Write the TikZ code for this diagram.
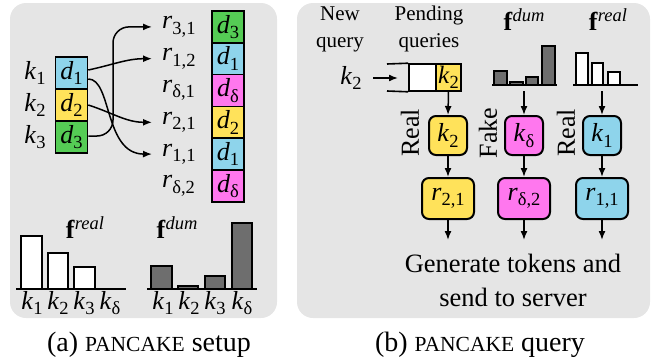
\documentclass[tikz,border=0pt]{standalone}
\usepackage{fontspec}
\setmainfont{Liberation Serif}
\usetikzlibrary{arrows.meta}
\definecolor{panelgray}{RGB}{229,229,229}
\definecolor{cblue}{RGB}{142,212,235}
\definecolor{cyellow}{RGB}{255,226,90}
\definecolor{cgreen}{RGB}{85,204,85}
\definecolor{cpink}{RGB}{255,119,238}
\definecolor{bargray}{RGB}{110,110,110}
\newcommand\sym[2]{\textit{#1}\raisebox{-5.5pt}{\fontsize{18.5}{18.5}\selectfont #2}}
\newcommand\fv[1]{\textbf{f}\raisebox{9pt}{\fontsize{18.5}{18.5}\selectfont\itshape #1}}
\newcommand\pc{{\fontsize{21.5}{21.5}\selectfont PANCAKE}}
\tikzset{
  txt/.style={font=\fontsize{26}{32}\selectfont, inner sep=0},
  small/.style={font=\fontsize{21}{27}\selectfont, inner sep=0, align=center},
  cell/.style={draw, line width=1.6, minimum width=32, minimum height=31.8, inner sep=0, font=\fontsize{26}{32}\selectfont},
  rcell/.style={draw, line width=2, rounded corners=7, minimum width=38, minimum height=39, inner sep=0, font=\fontsize{26}{32}\selectfont},
  wcell/.style={rcell, minimum width=52, minimum height=41},
  arr/.style={line width=1.5, -{Latex[length=9pt,width=7pt]}},
  barw/.style={draw, line width=2, fill=white},
  bard/.style={draw, line width=2, fill=bargray},
  barws/.style={draw, line width=1.5, fill=white},
  bards/.style={draw, line width=1.5, fill=bargray},
}
\begin{document}
\begin{tikzpicture}[x=1pt,y=1pt]
\useasboundingbox (0,0) rectangle (654,-364);
% panels
\fill[panelgray, rounded corners=16] (10,-3) rectangle (277,-318);
\fill[panelgray, rounded corners=16] (297,-3) rectangle (650,-318);

% ---------- (a) setup ----------
\node[cell, fill=cblue]   (d1) at (71.5,-73) {\sym{d}{1}};
\node[cell, fill=cyellow] (d2) at (71.5,-105) {\sym{d}{2}};
\node[cell, fill=cgreen]  (d3) at (71.5,-137) {\sym{d}{3}};
\node[txt] (k1) at (35,-73) {\sym{k}{1}};
\node[txt] (k2) at (35,-105) {\sym{k}{2}};
\node[txt] (k3) at (35,-137) {\sym{k}{3}};

\node[cell, fill=cgreen]  (e1) at (228,-26.9) {\sym{d}{3}};
\node[cell, fill=cblue]   (e2) at (228,-58.7) {\sym{d}{1}};
\node[cell, fill=cpink]   (e3) at (228,-90.5) {\sym{d}{δ}};
\node[cell, fill=cyellow] (e4) at (228,-122.3) {\sym{d}{2}};
\node[cell, fill=cblue]   (e5) at (228,-154.1) {\sym{d}{1}};
\node[cell, fill=cpink]   (e6) at (228,-185.9) {\sym{d}{δ}};

\node[txt, anchor=west, inner xsep=2] (r31) at (160,-26.9) {\sym{r}{3,1}};
\node[txt, anchor=west, inner xsep=2] (r12) at (160,-58.7) {\sym{r}{1,2}};
\node[txt, anchor=west, inner xsep=2] (rd1) at (160,-90.5) {\sym{r}{δ,1}};
\node[txt, anchor=west, inner xsep=2] (r21) at (160,-122.3) {\sym{r}{2,1}};
\node[txt, anchor=west, inner xsep=2] (r11) at (160,-154.1) {\sym{r}{1,1}};
\node[txt, anchor=west, inner xsep=2] (rd2) at (160,-185.9) {\sym{r}{δ,2}};

\draw[arr] ([yshift=3]d1.east) to[out=12,in=180] ([xshift=-8]r12.west);
\draw[arr] ([yshift=-6]d1.east) .. controls (112,-79) and (104,-154) .. ([xshift=-8]r11.west);
\draw[arr] (d2.east) to[out=-18,in=180] ([xshift=-8]r21.west);
\draw[arr, rounded corners=16] ([yshift=1]d3.east) -| ([xshift=-47]r31.west) -- ([xshift=-8]r31.west);

% histograms (a)
\node[txt] (fra) at (85,-228) {\fv{real}};
\draw[barw] (21,-289) rectangle (42,-236);
\draw[barw] (48,-289) rectangle (68,-253);
\draw[barw] (74,-289) rectangle (95,-267);
\draw[line width=2] (16,-289) -- (126,-289);
\node[txt] at (32,-303) {\sym{k}{1}};
\node[txt] at (58,-303) {\sym{k}{2}};
\node[txt] at (84,-303) {\sym{k}{3}};
\node[txt] at (110,-303) {\sym{k}{δ}};

\node[txt] (fda) at (177,-228) {\fv{dum}};
\draw[bard] (151,-289) rectangle (172,-266);
\draw[bard] (178,-289) rectangle (198,-286);
\draw[bard] (205,-289) rectangle (225,-276);
\draw[bard] (232,-289) rectangle (252,-223);
\draw[line width=2] (147,-289) -- (257,-289);
\node[txt] at (163,-303) {\sym{k}{1}};
\node[txt] at (189,-303) {\sym{k}{2}};
\node[txt] at (215,-303) {\sym{k}{3}};
\node[txt] at (242,-303) {\sym{k}{δ}};

\node[txt, font=\fontsize{28}{32}\selectfont] (capa) at (149,-345) {(a) \pc{} setup};

% ---------- (b) query ----------
\node[small] (nq) at (340,-29) {New\\query};
\node[small] (pq) at (429,-29) {Pending\\queries};
\node[txt] (fdb) at (524,-20) {\fv{dum}};
\node[txt] (frb) at (608,-20) {\fv{real}};

\node[txt] (knew) at (351,-78) {\sym{k}{2}};
\coordinate (qin) at (398,-78);
\draw[arr] (373,-78) -- (qin);

\node[draw, line width=1.6, fill=white, minimum width=27, minimum height=27, inner sep=0] (qe) at (422.5,-77.5) {};
\node[draw, line width=1.6, fill=cyellow, minimum width=25, minimum height=27, inner sep=0, font=\fontsize{25}{28}\selectfont] (qk) at (448.5,-77.5) {\sym{k}{2}};
\coordinate (qtop) at (387,-64);
\coordinate (qbot) at (387,-91);
\draw[line width=1.6] (qtop) -- (qe.north west);
\draw[line width=1.6] (qbot) -- (qe.south west);

% right panel histograms
\draw[bards] (494,-85) rectangle (507,-71);
\draw[bards] (510,-85) rectangle (523,-82);
\draw[bards] (526,-85) rectangle (538,-77);
\draw[bards] (542,-85) rectangle (555,-46);
\draw[line width=1.5] (492,-85) -- (557,-85);
\coordinate (hd) at (524,-91);

\draw[barws] (576,-85) rectangle (588,-53);
\draw[barws] (592,-85) rectangle (603,-63);
\draw[barws] (608,-85) rectangle (620,-72);
\draw[line width=1.5] (573,-85) -- (638,-85);
\coordinate (hr) at (602,-91);

% query nodes
\node[rcell, fill=cyellow] (qk2) at (448,-135.5) {\sym{k}{2}};
\node[rcell, fill=cpink]   (qkd) at (524,-135.5) {\sym{k}{δ}};
\node[rcell, fill=cblue]   (qk1) at (602,-135.5) {\sym{k}{1}};
\node[wcell, fill=cyellow] (qr21) at (448,-198.5) {\sym{r}{2,1}};
\node[wcell, fill=cpink]   (qrd2) at (524,-198.5) {\sym{r}{δ,2}};
\node[wcell, fill=cblue]   (qr11) at (602,-198.5) {\sym{r}{1,1}};

\node[txt, rotate=90] (lr1) at (410,-133) {Real};
\node[txt, rotate=90] (lf)  at (488,-133) {Fake};
\node[txt, rotate=90] (lr2) at (566,-133) {Real};

\draw[arr] (qk.south) -- (qk2.north);
\draw[arr] (hd) -- (qkd.north);
\draw[arr] (hr) -- (qk1.north);
\draw[arr] (qk2.south) -- (qr21.north);
\draw[arr] (qkd.south) -- (qrd2.north);
\draw[arr] (qk1.south) -- (qr11.north);
\coordinate (o1) at (448,-240);
\coordinate (o2) at (524,-240);
\coordinate (o3) at (602,-240);
\draw[arr] (qr21.south) -- (o1);
\draw[arr] (qrd2.south) -- (o2);
\draw[arr] (qr11.south) -- (o3);

\node[txt, align=center, font=\fontsize{26.5}{34}\selectfont] (gen) at (513,-280) {Generate tokens and\\send to server};

\node[txt, font=\fontsize{28}{32}\selectfont] (capb) at (480,-345) {(b) \pc{} query};
\end{tikzpicture}
\end{document}
